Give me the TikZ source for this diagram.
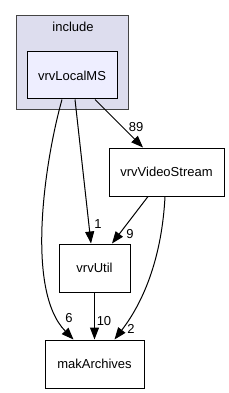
\documentclass[tikz,border=0pt]{standalone}
\usepackage{fontspec}
\setmainfont{Liberation Sans}
\usetikzlibrary{arrows.meta}
\definecolor{clusterfill}{HTML}{DDDDEE}
\definecolor{dirfill}{HTML}{EEEEFF}
\definecolor{clusterline}{HTML}{444444}

\begin{document}
\begin{tikzpicture}[
    x=1pt, y=-1pt,
    font=\fontsize{13}{15}\selectfont,
    dirbox/.style={draw, line width=1pt, fill=white, inner sep=0pt},
    arr/.style={-{Triangle[length=12pt, width=9pt]}, line width=1pt},
    lbl/.style={inner sep=0pt},
]
\useasboundingbox (0,0) rectangle (229,393);

% cluster: include
\node[draw=clusterline, line width=1pt, fill=clusterfill, minimum width=112pt, minimum height=94pt, inner sep=0pt] (incl) at (72, 63) {};
\node (incltitle) at (73, 27) {include};
\node[dirbox, fill=dirfill, minimum width=90pt, minimum height=47pt] (localms) at (72, 75.5) {vrvLocalMS};

% other directories
\node[dirbox, minimum width=115pt, minimum height=48pt] (videostream) at (166.5, 172) {vrvVideoStream};
\node[dirbox, minimum width=71pt, minimum height=48pt] (util) at (94.5, 268) {vrvUtil};
\node[dirbox, minimum width=99pt, minimum height=48pt] (archives) at (94.5, 364) {makArchives};

% dependencies
\draw[arr] ([xshift=-10pt]localms.south) .. controls (45,160) and (25,290) .. ([xshift=-21pt]archives.north);
\draw[arr] ([xshift=3pt]localms.south) -- ([xshift=-3.5pt]util.north);
\draw[arr] ([xshift=23pt]localms.south) -- ([xshift=-23.5pt]videostream.north);
\draw[arr] ([xshift=-18.5pt]videostream.south) -- ([xshift=17.5pt]util.north);
\draw[arr] ([xshift=-1.5pt]videostream.south) .. controls (162,255) and (145,300) .. ([xshift=20pt]archives.north);
\draw[arr] (util) -- (archives);

% counts
\node[lbl] (n6) at (69, 318) {6};
\node[lbl] (n1) at (98, 224) {1};
\node[lbl] (n89) at (136, 127) {89};
\node[lbl] (n9) at (130, 234) {9};
\node[lbl] (n2) at (131, 329) {2};
\node[lbl] (n10) at (104, 321) {10};

\end{tikzpicture}
\end{document}
